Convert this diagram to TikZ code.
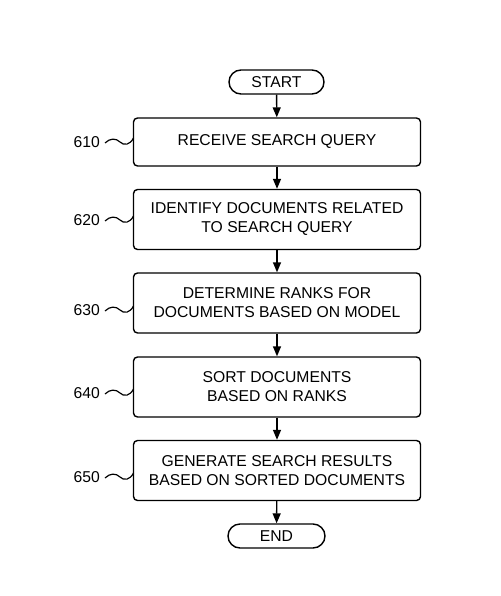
\documentclass[tikz,border=0pt]{standalone}
\usepackage{fontspec}
\setmainfont{Liberation Sans}
\usetikzlibrary{arrows.meta,shapes.misc}
\begin{document}
\begin{tikzpicture}[x=1pt,y=-1pt,
  every node/.style={font=\fontsize{15.7}{19}\selectfont, inner sep=0pt},
  stepbox/.style={draw, line width=1.4pt, rounded corners=4pt, minimum width=287pt, align=center},
  termbox/.style={draw, line width=1.4pt, rounded rectangle, minimum height=24pt},
  flow/.style={line width=1.4pt, -{Triangle[length=10pt,width=8pt]}},
  squig/.style={line width=1.2pt},
  reflab/.style={anchor=east}]
\useasboundingbox (0,0) rectangle (500,596);
\node[termbox, minimum width=95pt] (start) at (276.5,82) {START};
\node[stepbox, minimum height=48pt] (b610) at (277,142) {RECEIVE SEARCH QUERY};
\node[stepbox, minimum height=60pt] (b620) at (277,219.5) {IDENTIFY DOCUMENTS RELATED\\TO SEARCH QUERY};
\node[stepbox, minimum height=60pt] (b630) at (277,303) {DETERMINE RANKS FOR\\DOCUMENTS BASED ON MODEL};
\node[stepbox, minimum height=60pt] (b640) at (277,387) {SORT DOCUMENTS\\BASED ON RANKS};
\node[stepbox, minimum height=60pt] (b650) at (277,470.5) {GENERATE SEARCH RESULTS\\BASED ON SORTED DOCUMENTS};
\node[termbox, minimum width=97pt] (end) at (276.5,536) {END};
\draw[flow] (start) -- (b610);
\draw[flow] (b610) -- (b620);
\draw[flow] (b620) -- (b630);
\draw[flow] (b630) -- (b640);
\draw[flow] (b640) -- (b650);
\draw[flow] (b650) -- (end);
\foreach \n/\yy in {610/142,620/220,630/310,640/393,650/477}{
  \node[reflab] (l\n) at (100,\yy) {\n};
  \coordinate (s\n) at (105,\yy+1);
  \draw[squig] (s\n) .. controls (110,\yy-4) and (116,\yy-4) .. (120,\yy)
     .. controls (124,\yy+4) and (130,\yy+3) .. (133.5,\yy-4);
}
\end{tikzpicture}
\end{document}
